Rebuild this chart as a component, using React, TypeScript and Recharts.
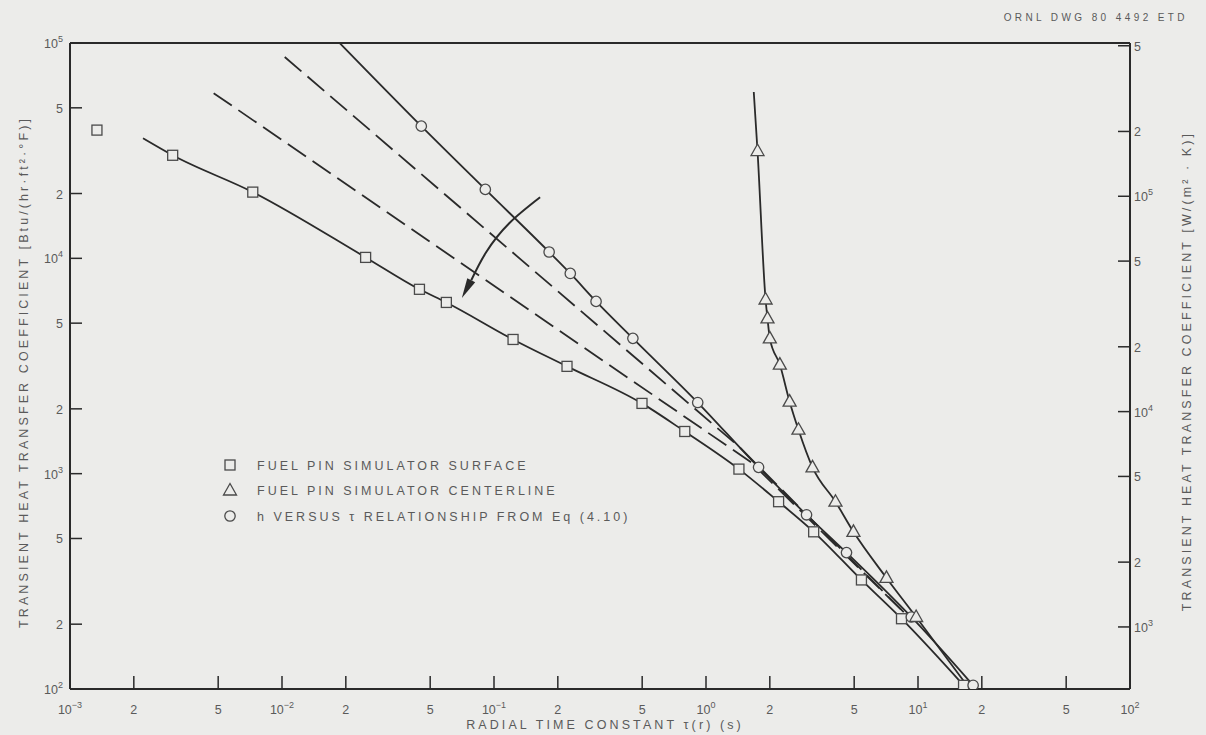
import React from "react";
import { ComposedChart, Label, Legend, Line, Scatter, XAxis, YAxis } from "recharts";

const WIDTH = 1206;
const HEIGHT = 735;
const BG = "#ececea";
const INK = "#2a2a2a";
const MARK = "#4a4a4a";
const TEXT = "#5a5a5a";
const FONT = "'Liberation Sans', Arial, sans-serif";

// radial time constant tau (s), log axis
const tauTicks = [0.001, 0.002, 0.005, 0.01, 0.02, 0.05, 0.1, 0.2, 0.5, 1, 2, 5, 10, 20, 50, 100];
const tauTickLabels = ["10^\u22123", "2", "5", "10^\u22122", "2", "5", "10^\u22121", "2", "5", "10^0", "2", "5", "10^1", "2", "5", "10^2"];

// left axis, Btu/(h ft2 F)
const hTicks = [100, 200, 500, 1000, 2000, 5000, 10000, 20000, 50000, 100000];
const hTickLabels = ["10^2", "2", "5", "10^3", "2", "5", "10^4", "2", "5", "10^5"];

// right axis, W/(m2 K) -- factor as it is drawn on the sheet
const SI_FACTOR = 5.15;
const siTicks = [1000, 2000, 5000, 10000, 20000, 50000, 100000, 200000, 500000];
const siTickLabels = ["10^3", "2", "5", "10^4", "2", "5", "10^5", "2", "5"];

// fuel pin simulator surface (squares)
const surfaceTau = [0.00305, 0.00728, 0.0248, 0.0445, 0.0596, 0.123, 0.221, 0.499, 0.794, 1.43, 2.2, 3.22, 5.41, 8.36, 16.4];
const surfaceH = [30100, 20300, 10100, 7180, 6240, 4200, 3150, 2120, 1570, 1050, 741, 537, 321, 212, 104];
const surfaceLineStart = { tau: 0.00221, h: 36100 };
const surfaceStray = { tau: 0.00134, h: 39400 };

// fuel pin simulator centerline (triangles)
const centerTau = [1.75, 1.91, 1.95, 2.0, 2.23, 2.48, 2.73, 3.18, 4.08, 4.96, 7.1, 9.8];
const centerH = [31500, 6440, 5260, 4250, 3210, 2160, 1600, 1070, 741, 537, 328, 216];
const centerLineStart = { tau: 1.68, h: 59200 };
const centerLineEnd = { tau: 17.0, h: 104 };

// h vs tau from Eq (4.10) (circles)
const eqTau = [0.0454, 0.091, 0.182, 0.229, 0.303, 0.452, 0.914, 1.77, 2.98, 4.6, 9.3, 18.2];
const eqH = [41100, 20900, 10700, 8510, 6310, 4250, 2140, 1070, 644, 430, 216, 104];
const eqLineStart = { tau: 0.0187, h: 100000 };

// intermediate dashed curves
const dashUpperTau = [0.0103, 1.43, 9.2];
const dashUpperH = [86100, 1336, 212];
const dashLowerTau = [0.00476, 1.64, 9.2];
const dashLowerH = [58500, 1125, 212];

// curved arrow across the family of curves
const arrowTau = [0.165, 0.118, 0.0918, 0.0781];
const arrowH = [19200, 14550, 10670, 7910];

const legendLabels = [
    "FUEL PIN SIMULATOR SURFACE",
    "FUEL PIN SIMULATOR CENTERLINE",
    "h VERSUS \u03c4 RELATIONSHIP FROM Eq (4.10)",
];

type Pt = { tau: number; h: number };
const zip = (tau: number[], h: number[]): Pt[] => tau.map((t, i) => ({ tau: t, h: h[i] }));

const surfaceMarks = zip(surfaceTau, surfaceH);
const surfaceCurve = [surfaceLineStart, ...surfaceMarks];
const centerMarks = zip(centerTau, centerH);
const centerCurve = [centerLineStart, ...centerMarks, centerLineEnd];
const eqMarks = zip(eqTau, eqH);
const eqCurve = [eqLineStart, ...eqMarks];
const dashUpper = zip(dashUpperTau, dashUpperH);
const dashLower = zip(dashLowerTau, dashLowerH);
const arrowPath = zip(arrowTau, arrowH);

const SquareMark = (p: any) =>
    p.cx == null ? <g /> : (
        <rect x={p.cx - 5} y={p.cy - 5} width={10} height={10} fill={BG} stroke={MARK} strokeWidth={1.3} />
    );

const CircleMark = (p: any) =>
    p.cx == null ? <g /> : <circle cx={p.cx} cy={p.cy} r={5.2} fill={BG} stroke={MARK} strokeWidth={1.3} />;

const TriangleMark = (p: any) =>
    p.cx == null ? <g /> : (
        <path
            d={`M${p.cx},${p.cy - 7} L${p.cx + 6.5},${p.cy + 4.5} L${p.cx - 6.5},${p.cy + 4.5} Z`}
            fill={BG}
            stroke={MARK}
            strokeWidth={1.3}
        />
    );

const ArrowDot = (p: any) => {
    const { cx, cy, index, points } = p;
    if (cx == null || index !== arrowPath.length - 1) return <g key={`ad-${index}`} />;
    let dx = -0.47;
    let dy = 0.88;
    if (points && points[index - 1]) {
        dx = cx - points[index - 1].x;
        dy = cy - points[index - 1].y;
        const len = Math.hypot(dx, dy) || 1;
        dx /= len;
        dy /= len;
    }
    const L = 20;
    const hw = 4.5;
    const d = `M${cx + dx * L},${cy + dy * L} L${cx - dy * hw},${cy + dx * hw} L${cx + dy * hw},${cy - dx * hw} Z`;
    return <path key={`ad-${index}`} d={d} fill={INK} />;
};

function TickText({ x, y, anchor, label }: { x: number; y: number; anchor: string; label: string }) {
    const [base, exp] = label.split("^");
    return (
        <text x={x} y={y} textAnchor={anchor as any} fill={TEXT} fontSize={12.5} fontFamily={FONT}>
            {base}
            {exp !== undefined && (
                <tspan dy={-6} fontSize={9}>
                    {exp}
                </tspan>
            )}
        </text>
    );
}

const LeftTick = (p: any) => {
    const { x, y, payload } = p;
    const label = hTickLabels[hTicks.indexOf(payload.value)] ?? "";
    return (
        <g>
            <line x1={x} y1={y} x2={x + 12} y2={y} stroke={INK} strokeWidth={1.5} />
            <TickText x={x - 7} y={y + 5} anchor="end" label={label} />
        </g>
    );
};

const RightTick = (p: any) => {
    const { x, y, payload } = p;
    const label = siTickLabels[siTicks.indexOf(payload.value)] ?? "";
    return (
        <g>
            <line x1={x} y1={y} x2={x - 12} y2={y} stroke={INK} strokeWidth={1.5} />
            <TickText x={x + 4} y={y + 5} anchor="start" label={label} />
        </g>
    );
};

const BottomTick = (p: any) => {
    const { x, y, payload } = p;
    const label = tauTickLabels[tauTicks.indexOf(payload.value)] ?? "";
    return (
        <g>
            <line x1={x} y1={y} x2={x} y2={y - 13} stroke={INK} strokeWidth={1.5} />
            <TickText x={x} y={y + 25} anchor="middle" label={label} />
        </g>
    );
};

const TopTick = (p: any) => {
    const { x, y } = p;
    return <line x1={x} y1={y} x2={x} y2={y + 14} stroke={INK} strokeWidth={1.5} />;
};

const titleStyle = { fill: TEXT, fontSize: 12.5, fontFamily: FONT, letterSpacing: 3.1 };

const LeftTitle = (p: any) => {
    const vb = p.viewBox;
    const cx = vb.x + 28;
    const cy = vb.y + vb.height / 2 + 6;
    return (
        <text x={cx} y={cy} transform={`rotate(-90 ${cx} ${cy})`} textAnchor="middle" {...titleStyle}>
            TRANSIENT HEAT TRANSFER COEFFICIENT [Btu/(hr·ft²·°F)]
        </text>
    );
};

const RightTitle = (p: any) => {
    const vb = p.viewBox;
    const cx = vb.x + 61;
    const cy = vb.y + vb.height / 2 + 5;
    return (
        <text x={cx} y={cy} transform={`rotate(-90 ${cx} ${cy})`} textAnchor="middle" {...titleStyle}>
            TRANSIENT HEAT TRANSFER COEFFICIENT  [W/(m² · K)]
        </text>
    );
};

const BottomTitle = (p: any) => {
    const vb = p.viewBox;
    return (
        <text x={vb.x + vb.width / 2 + 5} y={vb.y + 40} textAnchor="middle" {...titleStyle}>
            RADIAL TIME CONSTANT τ(r) (s)
        </text>
    );
};

const DrawingNumber = (p: any) => {
    const vb = p.viewBox;
    return (
        <text x={vb.x + vb.width + 58} y={vb.y + 21} textAnchor="end" fill={TEXT} fontSize={10} fontFamily={FONT} letterSpacing={3.4}>
            ORNL  DWG 80  4492  ETD
        </text>
    );
};

const LegendBox = () => (
    <svg width={440} height={80}>
        {legendLabels.map((text, i) => {
            const cy = 12 + i * 25.5;
            const Mark = i === 0 ? SquareMark : i === 1 ? TriangleMark : CircleMark;
            return (
                <g key={text}>
                    <Mark cx={8} cy={cy} />
                    <text x={35} y={cy + 4.5} fill={TEXT} fontSize={12.5} fontFamily={FONT} letterSpacing={3}>
                        {text}
                    </text>
                </g>
            );
        })}
    </svg>
);

export default function App() {
    return (
        <div style={{ position: "absolute", left: 0, top: 0, width: WIDTH, height: HEIGHT, background: BG }}>
            <ComposedChart width={WIDTH} height={HEIGHT} margin={{ top: 0, right: 0, bottom: 0, left: 0 }}>
                <XAxis
                    xAxisId="b"
                    dataKey="tau"
                    type="number"
                    scale="log"
                    domain={[0.001, 100]}
                    ticks={tauTicks}
                    interval={0}
                    allowDataOverflow
                    height={46}
                    tickSize={0}
                    tickMargin={0}
                    tickLine={false}
                    tick={BottomTick}
                    axisLine={{ stroke: INK, strokeWidth: 2 }}
                >
                    <Label content={BottomTitle} />
                </XAxis>
                <XAxis
                    xAxisId="t"
                    orientation="top"
                    type="number"
                    scale="log"
                    domain={[0.001, 100]}
                    ticks={tauTicks.slice(1, -1)}
                    interval={0}
                    allowDataOverflow
                    height={43}
                    tickSize={0}
                    tickMargin={0}
                    tickLine={false}
                    tick={TopTick}
                    axisLine={{ stroke: INK, strokeWidth: 2 }}
                >
                    <Label content={DrawingNumber} />
                </XAxis>
                <YAxis
                    yAxisId="l"
                    dataKey="h"
                    type="number"
                    scale="log"
                    domain={[100, 100000]}
                    ticks={hTicks}
                    interval={0}
                    allowDataOverflow
                    width={70}
                    tickSize={0}
                    tickMargin={0}
                    tickLine={false}
                    tick={LeftTick}
                    axisLine={{ stroke: INK, strokeWidth: 2 }}
                >
                    <Label content={LeftTitle} />
                </YAxis>
                <YAxis
                    yAxisId="r"
                    orientation="right"
                    type="number"
                    scale="log"
                    domain={[100 * SI_FACTOR, 100000 * SI_FACTOR]}
                    ticks={siTicks}
                    interval={0}
                    allowDataOverflow
                    width={76}
                    tickSize={0}
                    tickMargin={0}
                    tickLine={false}
                    tick={RightTick}
                    axisLine={{ stroke: INK, strokeWidth: 2 }}
                >
                    <Label content={RightTitle} />
                </YAxis>

                <Line xAxisId="b" yAxisId="l" data={dashUpper} dataKey="h" type="linear" stroke={INK} strokeWidth={1.8} strokeDasharray="22 8" dot={false} isAnimationActive={false} />
                <Line xAxisId="b" yAxisId="l" data={dashLower} dataKey="h" type="linear" stroke={INK} strokeWidth={1.8} strokeDasharray="22 8" dot={false} isAnimationActive={false} />
                <Line xAxisId="b" yAxisId="l" data={surfaceCurve} dataKey="h" type="monotone" stroke={INK} strokeWidth={1.8} dot={false} isAnimationActive={false} />
                <Line xAxisId="b" yAxisId="l" data={eqCurve} dataKey="h" type="monotone" stroke={INK} strokeWidth={1.8} dot={false} isAnimationActive={false} />
                <Line xAxisId="b" yAxisId="l" data={centerCurve} dataKey="h" type="monotone" stroke={INK} strokeWidth={1.8} dot={false} isAnimationActive={false} />
                <Line xAxisId="b" yAxisId="l" data={arrowPath} dataKey="h" type="natural" stroke={INK} strokeWidth={2} dot={ArrowDot} isAnimationActive={false} />

                <Scatter xAxisId="b" yAxisId="l" data={[surfaceStray, ...surfaceMarks]} dataKey="h" shape={SquareMark} isAnimationActive={false} />
                <Scatter xAxisId="b" yAxisId="l" data={eqMarks} dataKey="h" shape={CircleMark} isAnimationActive={false} />
                <Scatter xAxisId="b" yAxisId="l" data={centerMarks} dataKey="h" shape={TriangleMark} isAnimationActive={false} />

                <Legend
                    layout="vertical"
                    align="center"
                    verticalAlign="middle"
                    content={LegendBox}
                    wrapperStyle={{ left: 222, top: 453, width: 440, height: 80 }}
                />
            </ComposedChart>
        </div>
    );
}
